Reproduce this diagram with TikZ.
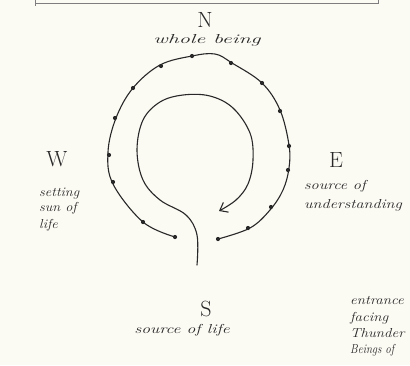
\documentclass[tikz,border=0pt]{standalone}
\usetikzlibrary{arrows.meta}
\definecolor{paper}{RGB}{251,250,243}
\definecolor{ink}{RGB}{40,40,40}
\begin{document}
\begin{tikzpicture}[x=1pt,y=-1pt,
  pen/.style={draw=ink,line width=1.1pt,line cap=round,line join=round},
  big/.style={text=ink,font=\fontsize{22}{22}\selectfont,inner sep=0pt},
  hand/.style={text=ink,font=\itshape\fontsize{13}{13}\selectfont,inner sep=0pt},
  dot/.style={circle,fill=ink,inner sep=0pt,minimum size=4.2pt}]
\fill[paper] (0,0) rectangle (410,365);
\useasboundingbox (0,0) rectangle (410,365);
\clip (0,0) rectangle (410,365);
% top frame edge
\draw[draw=ink!60,line width=0.9pt] (35,-1) -- (35,6);
\draw[draw=ink!60,line width=0.9pt] (35,3) -- (378,3) -- (378,-1);
% outer loop
\draw[pen] plot[smooth,tension=0.6] coordinates {
 (175,237) (143,222) (113,184) (108,152) (116,118) (133,88) (160,65)
 (192,56) (215,54) (232,63) (262,83) (280,110) (289,145) (289,168)
 (283,190) (270,210) (250,228) (218,239)};
\foreach \p [count=\i] in {(175,237),(143,222),(113,182),(109,155),(115,118),(133,88),(161,66),(192,56),(231,63),(262,83),(280,111),(289,146),(288,170),(271,207),(248,228),(218,239)}
  \node[dot] (d\i) at \p {};
% inner spiral with arrow
\draw[pen,-{Straight Barb[length=7pt,width=11pt]}] plot[smooth,tension=0.6] coordinates {
 (197,265) (197,235) (186,215) (160,200) (143,180) (137,150) (143,120)
 (160,102) (183,95) (210,96) (233,108) (250,133) (253,160) (248,184)
 (236,200) (219,211)};
% labels
\node[big] (n) at (205,20) {N};
\node[hand] (nl) at (207,40) {\scalebox{1.7}[1]{whole being}};
\node[big] (w) at (57,159) {W};
\node[hand,align=left,anchor=north west] (wl) at (39,188)
  {\scalebox{1.1}[1]{setting}\\[2pt]\scalebox{1.1}[1]{sun of}\\[4pt]\scalebox{1.1}[1]{life}};
\node[big] (e) at (336,160) {E};
\node[hand,align=left,anchor=north west] (el) at (304,180)
  {\scalebox{1.25}[1]{source of}\\[6pt]\scalebox{1.25}[1]{understanding}};
\node[big] (s) at (206,309) {S};
\node[hand] (sl) at (182,330) {\scalebox{1.35}[1]{source of life}};
\node[hand,align=left,anchor=north west] (ent) at (350,296)
  {\scalebox{1.15}[1]{entrance}\\[4pt]\scalebox{1.15}[1]{facing}\\[3pt]\scalebox{1.15}[1]{Thunder}\\[3pt]\scalebox{0.85}[1]{Beings of}};
\end{tikzpicture}
\end{document}
